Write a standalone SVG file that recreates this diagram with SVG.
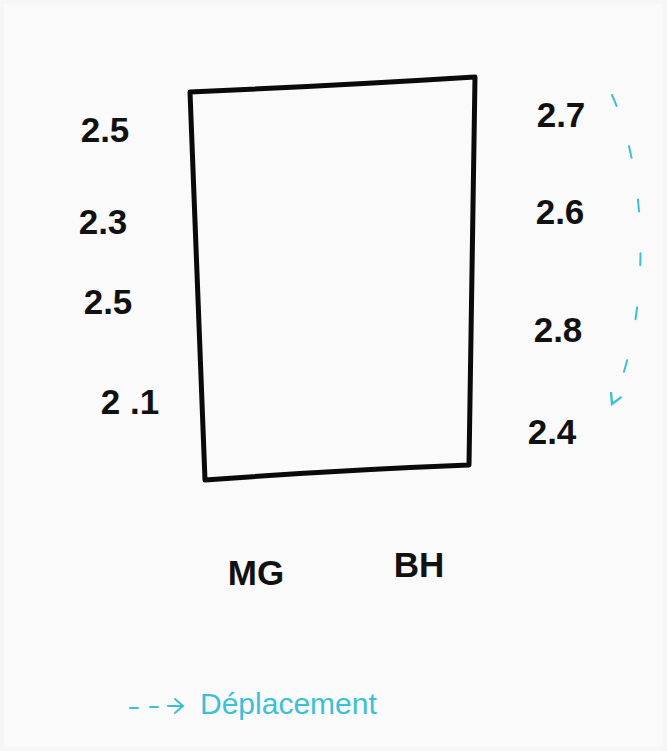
<svg xmlns="http://www.w3.org/2000/svg" width="667" height="751" viewBox="0 0 667 751">
<defs>
<style>
.lbl{font-family:"Liberation Sans",Arial,sans-serif;font-size:35px;font-weight:bold;fill:#111;text-anchor:middle}
.blue{stroke:#3cbfd8;fill:none;stroke-width:2;stroke-linecap:round}
.leg{font-family:"Liberation Sans",Arial,sans-serif;font-size:30px;fill:#3cbfd8}
</style>
<marker id="ah" viewBox="0 0 12 12" refX="10" refY="6" markerWidth="14" markerHeight="14" markerUnits="userSpaceOnUse" orient="auto">
<path d="M1,1 L10,6 L1,11" fill="none" stroke="#3cbfd8" stroke-width="2"/>
</marker>
</defs>
<rect x="0" y="0" width="667" height="751" fill="#f6f6f6"/>
<rect x="4" y="4" width="659" height="743" fill="#fafafa"/>
<g id="box">
<path d="M190,92 Q330,86 475,77 L469,465 Q340,470 205,480 Z" fill="#fafafa" stroke="#0a0a0a" stroke-width="5" stroke-linejoin="round"/>
</g>
<g id="l1"><text class="lbl" x="105" y="142">2.5</text></g>
<g id="l2"><text class="lbl" x="103" y="234">2.3</text></g>
<g id="l3"><text class="lbl" x="108" y="314">2.5</text></g>
<g id="l4"><text class="lbl" x="130" y="414">2 .1</text></g>
<g id="r1"><text class="lbl" x="561" y="127">2.7</text></g>
<g id="r2"><text class="lbl" x="560" y="224">2.6</text></g>
<g id="r3"><text class="lbl" x="558" y="342">2.8</text></g>
<g id="r4"><text class="lbl" x="552" y="444">2.4</text></g>
<g id="mg"><text class="lbl" x="256" y="585">MG</text></g>
<g id="bh"><text class="lbl" x="419" y="577">BH</text></g>
<g id="connectors">
<path class="blue" d="M612,95 C650,180 650,320 612,404" stroke-dasharray="12,42" marker-end="url(#ah)"/>
</g>
<g id="legend">
<path class="blue" d="M130,708 L138,708 M150,707 L158,707 M168,706 L182,706" />
<path class="blue" d="M175,699 L183,706 L175,713"/>
<text class="leg" x="200" y="714">Déplacement</text>
</g>
</svg>
